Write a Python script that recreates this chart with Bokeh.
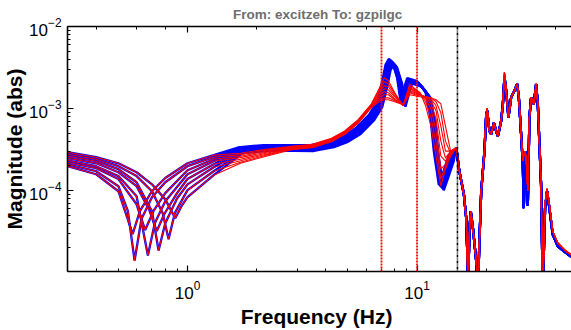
from bokeh.plotting import figure
from bokeh.models import Range1d, LogAxis, Span, LogTicker
from bokeh.embed import file_html
from bokeh.resources import INLINE

# ---------------- data ----------------
# Low-frequency part: 8 model variants, each with its own anti-resonance notch
low_freqs = [
    [0.3, 0.4, 0.5, 0.577, 0.62, 0.7, 0.8, 1.0, 1.3],
    [0.3, 0.4, 0.5, 0.55, 0.588, 0.63, 0.7, 0.8, 1.0, 1.3],
    [0.3, 0.4, 0.5, 0.6, 0.654, 0.71, 0.8, 1.0, 1.3],
    [0.3, 0.4, 0.5, 0.6, 0.672, 0.72, 0.8, 1.0, 1.3],
    [0.3, 0.4, 0.5, 0.6, 0.68, 0.735, 0.79, 0.9, 1.0, 1.3],
    [0.3, 0.4, 0.5, 0.6, 0.7, 0.748, 0.8, 0.9, 1.0, 1.3],
    [0.3, 0.4, 0.5, 0.6, 0.7, 0.78, 0.827, 0.88, 1.0, 1.3],
    [0.3, 0.4, 0.5, 0.6, 0.7, 0.8, 0.884, 0.94, 1.0, 1.3],
]
low_mags = [
    [1.98e-4, 1.58e-4, 9.8e-5, 2.95e-5, 5.6e-5, 9.8e-5, 1.42e-4, 2.15e-4, 2.70e-4],
    [2.09e-4, 1.72e-4, 1.13e-4, 5.6e-5, 1.40e-5, 4.5e-5, 8.3e-5, 1.26e-4, 1.98e-4, 2.55e-4],
    [2.21e-4, 1.87e-4, 1.38e-4, 6.8e-5, 3.3e-5, 5.6e-5, 9.3e-5, 1.77e-4, 2.41e-4],
    [2.34e-4, 1.98e-4, 1.50e-4, 8.5e-5, 1.61e-5, 4.0e-5, 7.4e-5, 1.58e-4, 2.28e-4],
    [2.48e-4, 2.15e-4, 1.67e-4, 1.13e-4, 5.9e-5, 3.2e-5, 5.1e-5, 9.3e-5, 1.38e-4, 2.09e-4],
    [2.62e-4, 2.28e-4, 1.82e-4, 1.26e-4, 5.6e-5, 1.86e-5, 4.0e-5, 8.0e-5, 1.19e-4, 1.92e-4],
    [2.77e-4, 2.41e-4, 1.98e-4, 1.50e-4, 9.8e-5, 5.3e-5, 2.55e-5, 5.3e-5, 1.01e-4, 1.72e-4],
    [2.93e-4, 2.55e-4, 2.15e-4, 1.67e-4, 1.19e-4, 7.8e-5, 4.6e-5, 6.4e-5, 8.3e-5, 1.54e-4],
]

# Mid-frequency part, blue family: common shape plus per-variant shift / gain
blue_freq = [1.7, 2.2, 2.84, 3.47, 4.24, 4.84, 5.54, 6.33, 6.88, 7.23, 7.48, 7.73,
             7.99, 8.40, 8.69, 9.0, 9.29, 9.61, 10.26, 11.16, 11.74, 12.14, 12.76,
             13.4, 14.1]
blue_mag = [3.10e-4, 3.32e-4, 3.32e-4, 3.30e-4, 3.67e-4, 4.22e-4, 5.33e-4, 7.76e-4,
            1.13e-3, 1.99e-3, 3.18e-3, 3.73e-3, 3.44e-3, 2.18e-3, 1.14e-3, 1.65e-3,
            2.18e-3, 2.12e-3, 2.00e-3, 1.47e-3, 7.1e-4, 2.77e-4, 1.09e-4, 1.62e-4,
            2.48e-4]
blue_shift = [0.975, 0.982, 0.989, 0.996, 1.004, 1.011, 1.018, 1.025]
blue_gain = [1.08, 1.057, 1.034, 1.011, 0.989, 0.966, 0.943, 0.92]

# Mid-frequency part, red family
red_freq = [1.7, 2.2, 2.84, 3.5, 4.24, 4.84, 5.54, 6.33, 6.9, 7.2, 7.5, 8.0, 8.7,
            9.3, 9.8, 10.3, 10.9, 11.5, 12.1, 12.7, 13.3, 14.0]
red_mags = [
    [2.85e-4, 3.19e-4, 3.47e-4, 3.67e-4, 4.35e-4, 5.33e-4, 7.3e-4, 1.14e-3, 1.84e-3, 2.37e-3, 2.18e-3,
     1.56e-3, 1.08e-3, 2.00e-3, 1.74e-3, 1.56e-3, 1.08e-3, 6.1e-4, 2.62e-4, 1.13e-4, 1.82e-4, 2.62e-4],
    [2.74e-4, 3.10e-4, 3.42e-4, 3.62e-4, 4.29e-4, 5.25e-4, 7.2e-4, 1.12e-3, 1.74e-3, 2.12e-3, 2.00e-3,
     1.51e-3, 1.08e-3, 1.89e-3, 1.69e-3, 1.56e-3, 1.21e-3, 7.9e-4, 3.78e-4, 1.38e-4, 1.98e-4, 2.77e-4],
    [2.62e-4, 3.02e-4, 3.37e-4, 3.57e-4, 4.23e-4, 5.18e-4, 7.1e-4, 1.11e-3, 1.65e-3, 1.89e-3, 1.84e-3,
     1.43e-3, 1.08e-3, 1.79e-3, 1.65e-3, 1.51e-3, 1.31e-3, 9.9e-4, 5.33e-4, 1.82e-4, 2.09e-4, 2.85e-4],
    [2.52e-4, 2.93e-4, 3.32e-4, 3.52e-4, 4.17e-4, 5.10e-4, 7.0e-4, 1.09e-3, 1.56e-3, 1.74e-3, 1.69e-3,
     1.39e-3, 1.11e-3, 1.74e-3, 1.60e-3, 1.51e-3, 1.35e-3, 1.14e-3, 7.5e-4, 2.62e-4, 2.28e-4, 2.93e-4],
    [2.41e-4, 2.85e-4, 3.28e-4, 3.47e-4, 4.11e-4, 5.03e-4, 6.9e-4, 1.08e-3, 1.47e-3, 1.60e-3, 1.56e-3,
     1.31e-3, 1.11e-3, 1.65e-3, 1.56e-3, 1.47e-3, 1.39e-3, 1.24e-3, 9.4e-4, 4.0e-4, 2.48e-4, 3.02e-4],
    [2.31e-4, 2.77e-4, 3.23e-4, 3.42e-4, 4.06e-4, 4.96e-4, 6.8e-4, 1.06e-3, 1.39e-3, 1.47e-3, 1.47e-3,
     1.28e-3, 1.11e-3, 1.60e-3, 1.51e-3, 1.47e-3, 1.39e-3, 1.31e-3, 1.08e-3, 6.1e-4, 3.02e-4, 3.02e-4],
    [2.21e-4, 2.70e-4, 3.19e-4, 3.37e-4, 4.00e-4, 4.89e-4, 6.7e-4, 1.05e-3, 1.31e-3, 1.35e-3, 1.35e-3,
     1.24e-3, 1.11e-3, 1.56e-3, 1.47e-3, 1.43e-3, 1.39e-3, 1.35e-3, 1.21e-3, 8.9e-4, 4.0e-4, 2.85e-4],
    [2.15e-4, 2.62e-4, 3.14e-4, 3.32e-4, 3.94e-4, 4.82e-4, 6.6e-4, 1.03e-3, 1.24e-3, 1.28e-3, 1.28e-3,
     1.21e-3, 1.11e-3, 1.47e-3, 1.43e-3, 1.39e-3, 1.35e-3, 1.35e-3, 1.28e-3, 1.14e-3, 6.1e-4, 3.02e-4],
]

# High-frequency part, shared by all variants
high_freq = [14.83, 15.28, 16.0, 16.38, 16.55, 16.67, 16.94, 17.14, 17.52, 18.11, 18.42,
             18.72, 19.04, 19.67, 20.01, 20.21, 20.69, 21.04, 21.62, 22.12, 22.5, 23.26,
             23.66, 24.04, 24.45, 25.02, 25.7, 26.57, 27.3, 27.77, 28.41, 28.9, 29.19,
             29.57, 29.87, 30.38, 30.88, 31.41, 32.27, 33.02, 33.59, 34.71, 35.31, 36.13,
             36.87, 37.73, 39.02, 41.02, 43.83, 46.88, 50.0]
high_blue = [3.33e-4, 1.73e-4, 9.0e-5, 4.6e-5, 1.8e-5, 6e-6, 3.5e-5, 5.6e-5, 3.5e-5, 1.37e-5, 6e-6,
             2.64e-5, 9.8e-5, 3.03e-4, 8.1e-4, 9.4e-4, 5.3e-4, 4.86e-4, 6.7e-4, 5.3e-4, 4.6e-4, 7.1e-4,
             1.13e-3, 2.45e-3, 1.65e-3, 7.8e-4, 1.36e-3, 1.65e-3, 1.99e-3, 1.36e-3, 4.86e-4, 2.09e-4, 6.1e-5,
             3.03e-4, 2.5e-4, 6.5e-5, 7.8e-4, 1.36e-3, 1.13e-3, 1.99e-3, 1.13e-3, 1.19e-4, 6e-6, 6.1e-5,
             9.8e-5, 6.1e-5, 2.9e-5, 2.1e-5, 1.8e-5, 1.57e-5, 1.45e-5]
high_red = [3.33e-4, 1.73e-4, 9.0e-5, 4.6e-5, 1.8e-5, 6e-6, 3.5e-5, 5.6e-5, 3.5e-5, 1.37e-5, 6e-6,
            2.64e-5, 9.8e-5, 3.03e-4, 8.4e-4, 1.0e-3, 5.3e-4, 4.86e-4, 6.7e-4, 5.3e-4, 4.6e-4, 7.1e-4,
            1.13e-3, 2.75e-3, 1.65e-3, 7.8e-4, 1.36e-3, 1.65e-3, 2.0e-3, 1.36e-3, 4.86e-4, 2.3e-4, 2.7e-4,
            3.03e-4, 2.5e-4, 1.0e-4, 7.8e-4, 1.36e-3, 1.13e-3, 2.0e-3, 1.13e-3, 1.19e-4, 6e-6, 7.0e-5,
            1.05e-4, 6.8e-5, 3.2e-5, 2.3e-5, 1.9e-5, 1.65e-5, 1.5e-5]

# Marker lines (Hz)
red_lines = [7.0, 10.0]
black_lines = [15.0]

title_text = "From: excitzeh  To: gzpilgc"
x_label = "Frequency  (Hz)"
y_label = "Magnitude (abs)"

# ---------------- build series ----------------
blue_xs, blue_ys, red_xs, red_ys = [], [], [], []
for i in range(len(low_freqs)):
    blue_xs.append(low_freqs[i] + [f * blue_shift[i] for f in blue_freq] + high_freq)
    blue_ys.append(low_mags[i] + [m * blue_gain[i] for m in blue_mag] + high_blue)
    red_xs.append(low_freqs[i] + red_freq + high_freq)
    red_ys.append(low_mags[i] + red_mags[i] + high_red)

FONT = "Liberation Sans"

p = figure(width=571, height=330, x_axis_type="log", y_axis_type="log",
           x_range=Range1d(0.3, 47.1), y_range=Range1d(1.03e-5, 1e-2),
           output_backend="svg", toolbar_location=None,
           min_border_left=66, min_border_right=0, min_border_top=26,
           min_border_bottom=59, title=title_text)
p.outline_line_color = None
p.grid.visible = False
p.background_fill_color = "white"
p.border_fill_color = "white"

p.title.align = "center"
p.title.vertical_align = "top"
p.title.text_color = "#6e6e6e"
p.title.text_font = FONT
p.title.text_font_size = "13.5px"
p.title.text_font_style = "bold"
p.title.standoff = 6

bottom_axis = p.below[0]
left_axis = p.left[0]

p.multi_line(blue_xs, blue_ys, line_color="#0000ff", line_width=2.3)
p.multi_line(red_xs, red_ys, line_color="#ff0000", line_width=1.1)

for f in red_lines:
    p.add_layout(Span(location=f, dimension="height", line_color="#ff0000",
                      line_width=1.8, line_dash="2 1"))
for f in black_lines:
    p.add_layout(Span(location=f, dimension="height", line_color="#000000",
                      line_width=1.6, line_dash="3 1 1 1"))

top_axis = LogAxis(ticker=LogTicker())
p.add_layout(top_axis, "above")

for ax in [bottom_axis, left_axis, top_axis]:
    ax.major_tick_in = 6
    ax.major_tick_out = 0
    ax.minor_tick_in = 3
    ax.minor_tick_out = 0
    ax.axis_line_width = 1.6
    ax.axis_line_color = "black"
    ax.major_tick_line_width = 1.2
    ax.minor_tick_line_width = 1.0
    ax.major_label_text_font = FONT
    ax.major_label_text_font_size = "17px"
    ax.major_label_text_color = "black"
    ax.axis_label_text_font = FONT
    ax.axis_label_text_font_size = "21px"
    ax.axis_label_text_font_style = "bold"
    ax.axis_label_text_color = "black"

top_axis.major_label_text_font_size = "1px"
top_axis.major_label_text_alpha = 0
top_axis.major_label_standoff = 0

bottom_axis.axis_label = x_label
left_axis.axis_label = y_label
bottom_axis.major_label_standoff = 9
left_axis.major_label_standoff = 6
bottom_axis.axis_label_standoff = 3
left_axis.axis_label_standoff = 0

open("out.html", "w").write(file_html(p, INLINE))
